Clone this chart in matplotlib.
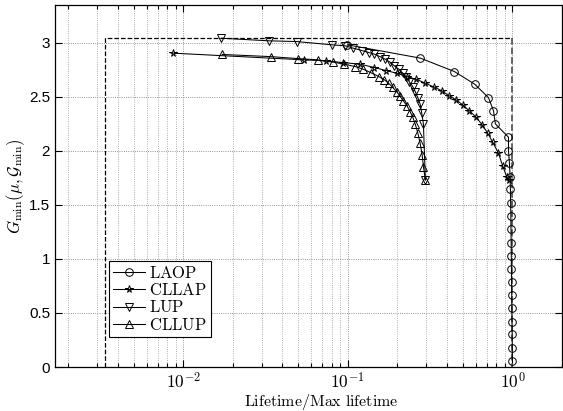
import numpy as np
import matplotlib
matplotlib.use('Agg')
import matplotlib.pyplot as plt
from matplotlib.ticker import FuncFormatter, LogLocator, NullFormatter

plt.rcParams['mathtext.fontset'] = 'cm'
plt.rcParams['font.family'] = 'Liberation Sans'

# normalised lifetime and G_min for each scheme
laop_x = [0.0996, 0.276, 0.444, 0.590, 0.715, 0.767, 0.788, 0.946, 0.946, 0.959,
          0.968, 0.972, 0.975, 0.978, 0.980, 0.982, 0.984, 0.986, 0.988, 0.990,
          0.992, 0.994, 0.996, 0.998, 1.0]
laop_g = [2.979, 2.856, 2.732, 2.615, 2.491, 2.371, 2.248, 2.125, 2.001, 1.884,
          1.760, 1.644, 1.520, 1.397, 1.274, 1.150, 1.027, 0.907, 0.789, 0.666,
          0.543, 0.419, 0.302, 0.178, 0.055]

cllap_x = [0.0087, 0.054, 0.0737, 0.093, 0.119, 0.145, 0.171, 0.198, 0.228, 0.260,
           0.296, 0.336, 0.374, 0.410, 0.455, 0.499, 0.548, 0.602, 0.655, 0.708,
           0.759, 0.822, 0.873, 0.923, 0.955]
cllap_g = [2.902, 2.840, 2.831, 2.815, 2.800, 2.769, 2.741, 2.717, 2.686, 2.661,
           2.624, 2.587, 2.553, 2.510, 2.470, 2.424, 2.368, 2.310, 2.239, 2.162,
           2.079, 1.977, 1.859, 1.760, 1.730]

lup_x = [0.0171, 0.0333, 0.0493, 0.0802, 0.0966, 0.108, 0.122, 0.134, 0.145, 0.157,
         0.169, 0.180, 0.192, 0.204, 0.216, 0.226, 0.236, 0.248, 0.257, 0.266,
         0.275, 0.281, 0.288, 0.296]
lup_g = [3.040, 3.016, 3.009, 2.979, 2.970, 2.948, 2.926, 2.908, 2.893, 2.870,
         2.846, 2.819, 2.784, 2.754, 2.717, 2.680, 2.639, 2.593, 2.547, 2.491,
         2.433, 2.352, 2.245, 1.730]

cllup_x = [0.0173, 0.034, 0.0498, 0.0656, 0.0816, 0.0953, 0.111, 0.124, 0.138, 0.154,
           0.167, 0.177, 0.187, 0.198, 0.207, 0.217, 0.229, 0.239, 0.248, 0.257,
           0.266, 0.275, 0.283, 0.288, 0.296]
cllup_g = [2.890, 2.870, 2.852, 2.840, 2.819, 2.800, 2.778, 2.754, 2.722, 2.686,
           2.655, 2.624, 2.587, 2.547, 2.507, 2.463, 2.414, 2.362, 2.310, 2.245,
           2.167, 2.069, 1.961, 1.853, 1.730]

# bounding box: shortest lifetime / max G
x_min = 1 / 300.
x_max = 1.0
g_max = 3.043

fig = plt.figure(figsize=(5.63, 4.11), dpi=100)
ax = fig.add_axes([55 / 563., 44 / 411., 507 / 563., 362 / 411.])

ax.plot([x_min, x_min, x_max], [0, g_max, g_max], 'k--', lw=0.9, zorder=2)
ax.plot([x_max, x_max], [g_max, 0], ls='--', color='0.35', lw=1.3, zorder=2)

kw = dict(color='k', lw=0.75, ms=5.5, mew=0.7, mfc='none', zorder=3)
ax.plot(laop_x, laop_g, marker='o', label=r'$\mathrm{LAOP}$', **kw)
ax.plot(cllap_x, cllap_g, marker='*', label=r'$\mathrm{CLLAP}$', **kw)
ax.plot(lup_x, lup_g, marker='v', label=r'$\mathrm{LUP}$', **kw)
ax.plot(cllup_x, cllup_g, marker='^', label=r'$\mathrm{CLLUP}$', **kw)

ax.set_xscale('log')
ax.set_xlim(x_min / 2, x_max * 2)
ax.set_ylim(0, g_max * 1.1)
ax.set_yticks(np.arange(0, 3.01, 0.5))
ax.set_yticklabels(['0', '0.5', '1', '1.5', '2', '2.5', '3'])
ax.xaxis.set_major_locator(LogLocator(base=10))
ax.xaxis.set_minor_locator(LogLocator(base=10, subs=np.arange(2, 10)))
ax.xaxis.set_major_formatter(FuncFormatter(lambda v, p: r'$\mathsf{10^{%d}}$' % round(np.log10(v))))
ax.xaxis.set_minor_formatter(NullFormatter())

ax.grid(True, which='major', ls=':', lw=0.6, color='0.45')
ax.grid(True, which='minor', axis='x', ls=':', lw=0.6, color='0.6')
ax.tick_params(which='both', direction='in', top=True, right=True, labelsize=11, width=0.8)
ax.tick_params(which='major', length=5)
ax.tick_params(which='minor', length=3)
ax.tick_params(axis='x', labelsize=12.5, pad=3)
for s in ax.spines.values():
    s.set_linewidth(0.9)

ax.set_xlabel(r'$\mathrm{Lifetime/Max\ lifetime}$', fontsize=11.5)
ax.xaxis.set_label_coords(0.525, -0.068)
ax.set_ylabel(r'$G_{\mathrm{min}}(\mu,\mathcal{G}_{\mathrm{min}})$', fontsize=12)
ax.yaxis.set_label_coords(-0.056, 0.5)

leg = ax.legend(loc='lower left', bbox_to_anchor=(0.107, 0.083), fontsize=12,
                handlelength=1.9, labelspacing=0.08, borderpad=0.25, handletextpad=0.25,
                fancybox=False, framealpha=1, edgecolor='k', borderaxespad=0)
leg.get_frame().set_linewidth(0.8)

fig.savefig('out.png', dpi=100)
